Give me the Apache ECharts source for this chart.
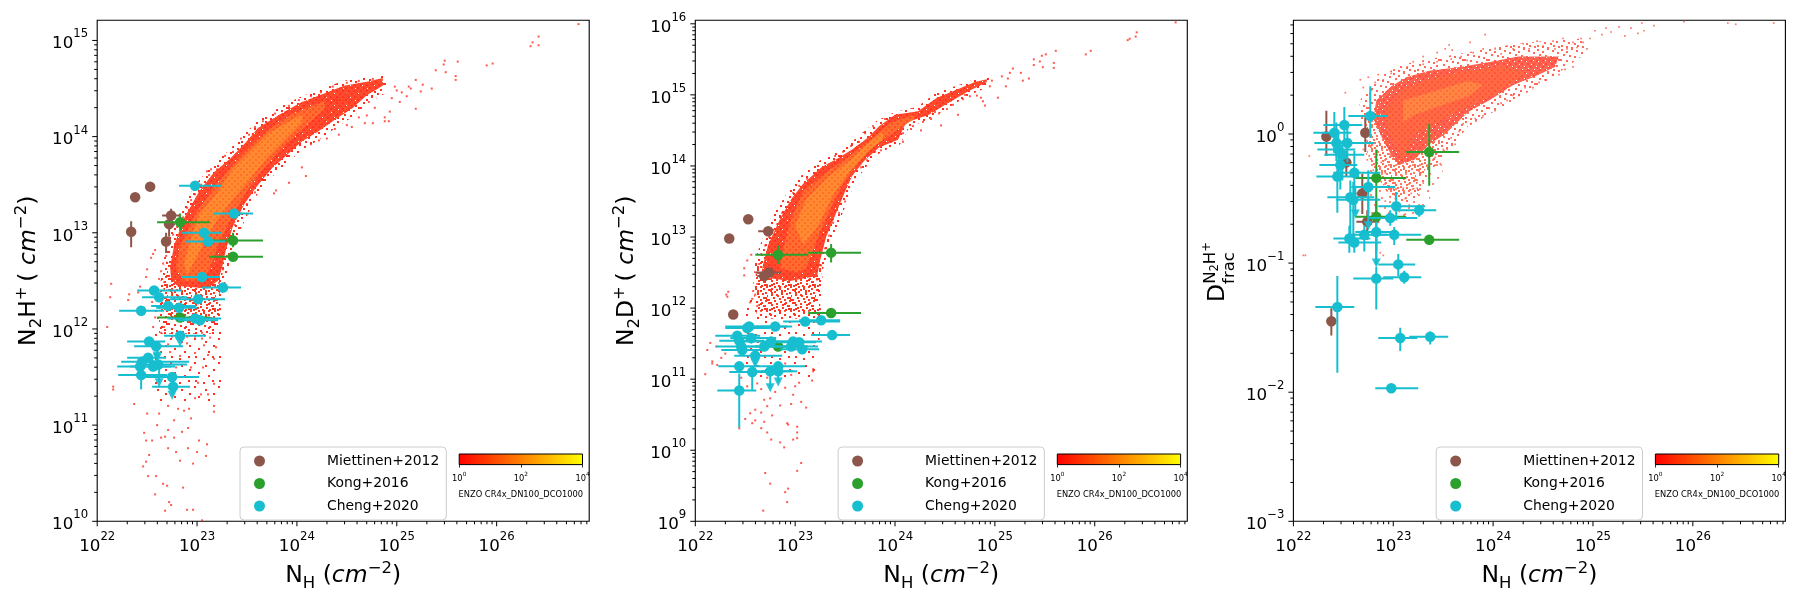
<!DOCTYPE html>
<html>
<head>
<meta charset="utf-8">
<title>Deuteration hexbin panels</title>
<script src="https://cdn.jsdelivr.net/npm/echarts@6/dist/echarts.min.js"></script>
<style>
  html, body { margin: 0; padding: 0; background: #fff; }
  #chart { width: 1800px; height: 600px; }
</style>
</head>
<body>
<div id="chart"></div>
<script>
// all values below are log10 of the plotted quantity
// observations: [x, y, xlow, xhigh, ylow, yhigh]
const miettinenA = [
  [22.34,13.01,22.34,22.34,12.85,13.12],[22.38,13.37,22.38,22.38,13.32,13.41],[22.53,13.48,22.50,22.56,13.45,13.51],
  [22.74,13.18,22.65,22.83,13.11,13.25],[22.72,13.09,22.67,22.78,12.96,13.19],[22.69,12.91,22.66,22.72,12.79,13.00]
];
const kongA = [
  [22.83,13.11,22.60,23.13,13.02,13.20],[23.36,12.92,23.12,23.66,12.85,13.00],
  [23.36,12.75,23.12,23.66,12.72,12.78],[22.83,12.12,22.60,23.13,12.10,12.14]
];
const chengA = [
  [22.98,13.49,22.82,23.25,13.47,13.52],[23.37,13.20,23.17,23.56,13.17,13.22],[23.07,13.00,22.85,23.24,12.97,13.03],
  [23.11,12.91,22.88,23.28,12.88,12.94],[23.05,12.54,22.84,23.23,12.51,12.57],[23.26,12.43,23.05,23.44,12.40,12.45],
  [22.57,12.40,22.40,22.85,12.37,12.43],[22.62,12.33,22.45,22.90,12.30,12.36],[23.01,12.31,22.73,23.28,12.28,12.34],
  [22.71,12.24,22.54,22.99,12.21,12.27],[22.82,12.22,22.59,23.00,12.18,12.26],[22.44,12.19,22.22,22.67,12.16,12.22],
  [22.98,12.11,22.71,23.24,12.08,12.14],[23.03,12.09,22.81,23.21,12.06,12.12],[22.83,11.93,22.67,23.09,11.90,11.96],
  [22.52,11.87,22.30,22.68,11.83,11.90],[22.59,11.82,22.37,22.86,11.78,11.85],[22.51,11.70,22.30,22.69,11.65,11.74],
  [22.45,11.66,22.24,22.92,11.60,11.71],[22.43,11.61,22.20,22.74,11.56,11.66],[22.56,11.61,22.33,22.78,11.56,11.68],
  [22.61,11.63,22.40,22.90,11.58,11.68],[22.44,11.52,22.21,22.70,11.37,11.57],[22.75,11.50,22.48,23.02,11.46,11.55],
  [22.76,11.40,22.55,22.93,11.31,11.45]
];
const chengALimits = [[22.83,11.86,11.93],[22.60,11.70,11.82],[22.60,11.72,11.83],[22.62,11.44,11.60],[22.75,11.31,11.40]];

const miettinenB = [
  [22.34,12.98,22.34,22.34,12.95,13.01],[22.53,13.25,22.51,22.55,13.22,13.28],[22.73,13.08,22.63,22.78,13.05,13.11],
  [22.74,12.50,22.60,22.86,12.47,12.53],[22.69,12.45,22.62,22.76,12.42,12.48],[22.38,11.91,22.38,22.38,11.88,11.94]
];
const kongB = [
  [22.83,12.75,22.60,23.13,12.62,12.88],[23.36,12.78,23.13,23.66,12.64,12.90],
  [23.36,11.93,23.13,23.66,11.90,11.96],[22.83,11.46,22.60,23.13,11.44,11.48]
];
const chengB = [
  [23.10,11.81,22.88,23.45,11.78,11.84],[23.26,11.83,23.04,23.45,11.80,11.86],[23.37,11.62,23.16,23.55,11.59,11.65],
  [22.80,11.74,22.60,22.97,11.70,11.78],[22.54,11.74,22.30,22.92,11.70,11.78],[22.52,11.72,22.30,22.75,11.68,11.76],
  [22.42,11.61,22.20,22.65,11.55,11.67],[22.56,11.58,22.35,22.81,11.50,11.64],[22.76,11.53,22.48,22.95,11.48,11.57],
  [22.98,11.53,22.71,23.27,11.48,11.57],[23.04,11.52,22.81,23.21,11.47,11.56],[22.46,11.46,22.21,22.70,11.40,11.52],
  [22.44,11.54,22.24,22.69,11.49,11.60],[22.69,11.46,22.48,23.02,11.42,11.50],[22.96,11.46,22.69,23.23,11.42,11.50],
  [23.07,11.42,22.85,23.24,11.37,11.47],[22.47,11.41,22.26,22.69,11.35,11.47],[22.60,11.33,22.39,22.87,11.20,11.40],
  [22.44,11.18,22.23,22.66,11.11,11.24],[22.57,11.10,22.34,22.77,10.85,11.17],[22.83,11.18,22.66,23.10,11.13,11.23],
  [22.83,11.11,22.66,23.02,11.05,11.16],[22.75,11.11,22.60,22.98,11.05,11.16],[22.44,10.84,22.22,22.61,10.32,11.08]
];
const chengBLimits = [[22.75,10.88,11.11],[22.83,10.96,11.11],[22.60,11.22,11.33]];

const miettinenC = [
  [22.33,-0.02,22.33,22.33,-0.17,0.18],[22.72,0.01,22.72,22.72,-0.14,0.13],[22.53,-0.22,22.53,22.53,-0.33,-0.13],
  [22.69,-0.46,22.63,22.74,-0.62,-0.31],[22.74,-0.68,22.63,22.86,-0.82,-0.59],[22.38,-1.45,22.38,22.38,-1.56,-1.35]
];
const kongC = [
  [23.36,-0.14,23.13,23.66,-0.40,0.08],[22.83,-0.34,22.62,23.13,-0.63,-0.12],
  [22.83,-0.64,22.62,23.13,-0.90,-0.50],[23.36,-0.82,23.13,23.66,-0.84,-0.79]
];
const chengC = [
  [22.77,0.14,22.55,22.94,-0.03,0.37],[22.51,0.07,22.30,22.69,-0.09,0.21],[22.41,0.01,22.20,22.58,-0.15,0.17],
  [22.43,-0.07,22.21,22.61,-0.21,0.09],[22.54,-0.07,22.33,22.81,-0.22,0.09],[22.45,-0.12,22.24,22.62,-0.30,0.03],
  [22.49,-0.16,22.31,22.71,-0.36,-0.05],[22.47,-0.24,22.26,22.64,-0.43,-0.14],[22.61,-0.30,22.40,22.87,-0.48,-0.13],
  [22.44,-0.33,22.23,22.66,-0.61,-0.20],[22.75,-0.41,22.58,23.02,-0.62,-0.28],[22.57,-0.49,22.34,22.81,-0.80,-0.36],
  [22.60,-0.51,22.43,22.87,-0.86,-0.37],[23.03,-0.56,22.85,23.32,-0.67,-0.45],[23.26,-0.59,23.06,23.43,-0.64,-0.55],
  [22.97,-0.65,22.75,23.24,-0.71,-0.59],[22.83,-0.76,22.62,23.04,-1.01,-0.68],[23.01,-0.78,22.78,23.28,-0.86,-0.72],
  [22.71,-0.78,22.56,22.94,-0.91,-0.71],[22.56,-0.81,22.40,22.77,-0.92,-0.71],[22.61,-0.84,22.45,22.88,-0.92,-0.77],
  [23.05,-1.01,22.85,23.22,-1.10,-0.93],[23.11,-1.11,22.90,23.28,-1.16,-1.06],[22.83,-1.12,22.60,23.00,-1.36,-1.03],
  [22.44,-1.34,22.22,22.61,-1.85,-1.10],[23.07,-1.58,22.85,23.24,-1.68,-1.50],[23.37,-1.57,23.16,23.55,-1.63,-1.53],
  [22.98,-1.97,22.82,23.25,-1.98,-1.95]
];
const chengCLimits = [[22.62,-0.62,-0.40],[22.75,-0.71,-0.50],[22.83,-1.00,-0.76]];

// simulation cloud outlines: [logN_H, logN]
const sparseA = [[22.55,11.25],[22.55,12.15],[22.62,12.50],[23.24,12.60],[23.24,11.25]];
const haloA = [[22.62,11.95],[22.62,12.40],[22.66,12.70],[22.72,12.95],[22.84,13.25],[23.00,13.52],[23.15,13.70],[23.30,13.84],[23.45,14.00],[23.60,14.16],[23.85,14.32],[24.05,14.42],[24.28,14.51],[24.47,14.58],[24.70,14.62],[24.90,14.64],[24.90,14.46],[24.70,14.34],[24.55,14.20],[24.40,14.10],[24.21,13.96],[24.05,13.86],[23.90,13.72],[23.75,13.58],[23.59,13.38],[23.52,13.22],[23.42,13.00],[23.34,12.76],[23.30,12.55],[23.24,12.30],[23.20,11.95]];
const lowA = [[22.70,12.10],[22.66,12.45],[22.68,12.70],[23.27,12.70],[23.24,12.45],[23.18,12.10]];
const outerA = [[22.80,12.45],[22.74,12.52],[22.73,12.64],[22.77,12.87],[22.87,13.15],[23.02,13.43],[23.17,13.63],[23.33,13.77],[23.48,13.93],[23.61,14.09],[23.86,14.25],[24.05,14.36],[24.28,14.45],[24.47,14.53],[24.70,14.57],[24.86,14.61],[24.86,14.53],[24.70,14.43],[24.55,14.29],[24.40,14.19],[24.21,14.05],[24.05,13.95],[23.90,13.81],[23.75,13.67],[23.59,13.47],[23.48,13.31],[23.36,13.07],[23.29,12.83],[23.25,12.64],[23.21,12.50],[23.10,12.42]];
const midA = [[22.86,12.50],[22.79,12.64],[22.83,12.87],[22.98,13.19],[23.17,13.47],[23.36,13.71],[23.52,13.89],[23.71,14.07],[23.94,14.23],[24.13,14.31],[24.28,14.37],[24.28,14.29],[24.13,14.15],[23.98,14.01],[23.82,13.85],[23.67,13.67],[23.52,13.47],[23.36,13.19],[23.21,12.87],[23.13,12.64],[23.06,12.50]];
const coreA = [[23.02,13.19],[23.21,13.43],[23.36,13.67],[23.52,13.83],[23.71,14.03],[23.94,14.17],[24.05,14.23],[24.05,14.15],[23.86,13.95],[23.71,13.79],[23.52,13.55],[23.36,13.35],[23.21,13.15],[23.10,12.95],[22.90,12.56],[22.87,12.68],[22.94,12.95]];
const sparseB = [[22.50,11.00],[22.50,12.00],[22.60,12.60],[23.28,12.40],[23.22,11.00]];
const haloB = [[22.62,11.85],[22.58,12.30],[22.60,12.70],[22.68,13.00],[22.80,13.36],[22.92,13.62],[23.05,13.85],[23.25,14.08],[23.40,14.18],[23.55,14.32],[23.70,14.50],[23.82,14.64],[24.00,14.76],[24.22,14.83],[24.40,15.02],[24.60,15.12],[24.80,15.22],[24.95,15.25],[24.95,15.12],[24.72,14.98],[24.49,14.78],[24.34,14.66],[24.14,14.54],[24.05,14.30],[23.86,14.20],[23.72,14.00],[23.60,13.78],[23.54,13.56],[23.46,13.28],[23.36,12.95],[23.28,12.55],[23.24,11.85]];
const lowB = [[22.64,11.95],[22.60,12.40],[22.62,12.65],[23.28,12.65],[23.24,12.30],[23.18,11.95]];
const outerB = [[22.75,12.42],[22.67,12.56],[22.73,12.89],[22.85,13.26],[22.96,13.53],[23.08,13.75],[23.27,13.99],[23.42,14.10],[23.57,14.23],[23.73,14.40],[23.84,14.56],[24.00,14.72],[24.23,14.77],[24.42,14.96],[24.61,15.07],[24.80,15.18],[24.92,15.22],[24.92,15.18],[24.72,15.04],[24.49,14.85],[24.34,14.72],[24.11,14.61],[24.03,14.37],[23.84,14.26],[23.69,14.07],[23.57,13.86],[23.50,13.64],[23.42,13.37],[23.31,13.00],[23.25,12.67],[23.22,12.45],[22.95,12.38]];
const midB = [[22.85,12.56],[22.89,12.89],[22.96,13.26],[23.08,13.64],[23.31,13.91],[23.54,14.13],[23.73,14.34],[23.96,14.61],[24.19,14.72],[24.19,14.66],[24.00,14.48],[23.80,14.29],[23.65,14.07],[23.50,13.80],[23.38,13.48],[23.23,13.00],[23.11,12.56],[23.02,12.50]];
const coreB = [[23.00,13.16],[23.11,13.53],[23.34,13.86],[23.54,14.07],[23.73,14.32],[23.88,14.48],[23.88,14.37],[23.73,14.21],[23.54,13.91],[23.38,13.59],[23.23,13.16],[23.08,12.89]];
const sparseC = [[22.72,-0.10],[22.78,-0.62],[23.00,-0.72],[23.30,-0.60],[23.50,-0.30],[23.40,-0.05]];
const haloC = [[22.68,0.10],[22.66,0.25],[22.76,0.38],[22.90,0.46],[23.10,0.54],[23.35,0.58],[23.65,0.62],[23.95,0.66],[24.25,0.70],[24.50,0.72],[24.90,0.74],[24.92,0.62],[24.52,0.40],[24.25,0.28],[23.98,0.16],[23.75,0.06],[23.55,-0.14],[23.38,-0.28],[23.22,-0.50],[23.06,-0.58],[22.95,-0.48],[22.85,-0.30],[22.75,-0.10]];
const lowC = [[22.72,0.10],[22.74,-0.15],[22.86,-0.36],[23.02,-0.50],[23.20,-0.44],[23.36,-0.22],[23.52,-0.02],[23.40,0.20],[23.00,0.25]];
const outerC = [[22.80,0.12],[22.83,0.26],[22.98,0.37],[23.13,0.44],[23.36,0.49],[23.67,0.52],[23.98,0.56],[24.25,0.60],[24.45,0.60],[24.66,0.60],[24.62,0.52],[24.40,0.44],[24.20,0.38],[23.98,0.27],[23.75,0.17],[23.52,0.00],[23.36,-0.08],[23.21,-0.20],[23.06,-0.24],[22.98,-0.16],[22.90,-0.05]];
const midC = [[22.90,0.17],[23.10,0.35],[23.36,0.43],[23.75,0.49],[24.13,0.53],[24.32,0.47],[24.05,0.32],[23.71,0.20],[23.44,0.09],[23.21,0.00],[23.10,-0.21],[22.98,-0.03]];
const coreC = [[23.10,0.26],[23.36,0.32],[23.75,0.41],[23.90,0.38],[23.75,0.29],[23.48,0.22],[23.21,0.15],[23.10,0.09]];

// lone hexbin cells outside the outlines
const cellsA = [
  [26.82,15.17],[26.42,15.04],[26.34,14.94],[26.36,14.98],[26.42,14.95],[25.48,14.79],[25.47,14.75],[25.61,14.78],[25.49,14.67],[25.59,14.63],[25.59,14.59],[25.39,14.69],[25.90,14.74],[25.96,14.76],
  [25.35,14.50],[25.26,14.54],[25.24,14.47],[25.19,14.59],[25.19,14.29],[25.12,14.52],[25.10,14.42],[25.05,14.46],[25.03,14.36],[25.00,14.48],[24.98,14.52],[25.14,14.50],[24.95,14.40],[24.93,14.26],[24.88,14.16],[24.92,14.16],[24.88,14.20],[24.76,14.14],[24.70,14.22],[24.78,14.30],[24.72,14.36],[24.68,14.14],[24.62,14.20],[24.55,14.10],[24.50,14.12],[24.42,14.02],[24.38,14.08],[24.30,13.98],[24.22,13.96],[24.14,13.92],[24.09,13.59],[24.05,13.68],[23.92,13.52],[23.79,13.44],[23.77,13.41],
  [23.05,10.01],[22.90,10.12],[22.96,10.12],[22.68,10.11],[22.74,10.17],[22.72,10.20],[22.70,10.37],[22.66,10.39],[22.58,10.28],[22.51,10.47],[22.46,10.57],[22.52,10.69],[22.49,10.62],[22.59,10.47],[22.71,10.76],[22.68,10.88],[22.79,10.72],[22.83,10.63],[22.86,10.35],[22.91,10.76],[22.96,10.60],[23.02,10.84],[23.10,10.80],[23.09,10.68],[23.00,10.72],[22.47,10.92],[22.49,10.84],[22.55,10.84],[22.64,10.87],[22.71,10.95],[22.77,10.87],[22.85,10.93],[22.91,10.97],[22.77,11.05],[22.81,11.17],[22.87,11.15],[22.92,11.17],[22.94,11.07],[22.62,11.12],[22.50,11.12],[22.60,11.00],[22.37,11.22],[22.71,11.20],[22.98,11.28],[23.04,11.32],[23.17,11.20],[23.17,11.14],[23.11,11.32],[23.01,11.44],[22.96,11.50],[22.94,11.60],[23.06,11.60],[23.17,11.43],[23.19,11.81],[23.17,11.69],[23.11,11.73],[23.07,11.83],[23.13,11.91],[22.98,11.75],[22.90,11.85],
  [22.16,11.40],[22.16,11.37],[22.10,12.02],[22.13,12.33],[22.14,12.47],[22.31,12.30],[22.32,12.36],[22.41,12.38],[22.43,12.44],[22.49,12.54],[22.50,12.62],[22.54,12.74],[22.58,12.82],[22.56,12.78],[22.55,12.28],[22.58,12.12],[22.56,12.02],[22.64,11.96],[22.67,12.02],[22.71,11.84],[22.75,11.92],[22.64,11.82],[22.73,11.76],[22.64,11.60],[22.79,11.60],[22.83,11.72],[22.90,11.92],[22.98,11.92],[23.05,11.96],[23.05,11.90],
  [22.62,12.52],[22.64,12.60],[22.66,12.68],[22.69,12.76],[22.72,12.90],[22.76,12.98],[22.80,13.06],[22.86,13.16],[22.90,13.26],[22.94,13.34],[22.98,13.40],[23.04,13.50],[23.12,13.60],[23.20,13.66],[23.10,13.64],[23.14,13.66],[23.22,12.48],[23.26,12.62],[23.30,12.76],[23.34,12.92],[23.38,13.08],[23.44,13.20],[23.50,13.30],[23.58,13.42],[23.65,13.55],[23.72,13.66],[23.80,13.80],[23.90,13.92],[24.00,14.02],[24.10,14.10],[24.20,14.20],[24.30,14.28],[24.40,14.38],[24.50,14.44],[23.28,13.80],[23.36,13.84],[23.44,13.98],[23.52,14.02],[23.58,14.10],[23.66,14.16],[23.78,14.24],[23.92,14.32],[24.02,14.38],[24.14,14.42],[24.24,14.46],[24.36,14.52],[24.50,14.56],[24.62,14.58],[24.76,14.60]
];
const cellsB = [
  [26.81,16.02],[26.42,15.88],[26.41,15.82],[26.35,15.79],[26.33,15.77],[25.96,15.62],[25.91,15.57],[25.61,15.62],[25.51,15.57],[25.47,15.55],[25.45,15.47],[25.39,15.50],[25.48,15.39],[25.59,15.45],[25.59,15.38],[25.39,15.42],[25.34,15.23],[25.26,15.31],[25.28,15.20],[25.18,15.37],[25.15,15.31],[25.13,15.23],[25.11,15.12],[25.07,15.26],[25.03,14.96],[24.90,14.85],[24.86,14.96],[24.88,14.91],[24.82,14.99],[24.97,15.20],[24.95,15.12],[24.63,14.72],[24.46,14.57],[24.26,14.50],[24.75,14.98],[24.68,14.94],[24.58,14.86],[24.52,14.80],[24.44,14.74],[24.36,14.66],[24.16,14.52],[24.08,14.34],
  [22.68,9.15],[22.92,9.27],[22.90,9.41],[22.93,9.46],[22.75,9.53],[22.70,9.68],[23.02,9.71],[23.06,9.82],[22.85,10.11],[22.89,10.04],[22.76,10.15],[22.72,10.25],[22.66,10.31],[22.57,10.38],[22.69,10.40],[22.92,10.38],[22.93,10.36],[23.02,10.33],[23.02,10.25],[23.02,10.17],[22.98,10.15],[22.44,10.31],[22.55,10.52],[22.60,10.57],[22.66,10.53],[22.77,10.49],[22.69,10.71],[22.75,10.73],[22.85,10.63],[22.96,10.65],[23.06,10.68],[23.11,10.60],[23.00,10.90],[23.04,10.95],[23.17,10.98],[23.18,11.11],[23.18,11.14],[22.98,10.78],[22.72,10.62],[22.60,10.42],[22.50,10.44],[22.80,10.82],[22.90,10.88],[22.66,10.86],
  [22.10,11.07],[22.17,11.25],[22.17,11.22],[22.15,11.51],[22.12,11.41],[22.21,11.46],[22.31,12.19],[22.33,12.23],[22.32,12.16],[22.49,12.46],[22.49,12.56],[22.52,12.67],[22.56,12.75],[22.55,12.08],[22.60,12.19],[22.57,12.13],[22.62,12.03],[22.58,12.24],[22.62,12.34],
  [22.62,12.50],[22.64,12.62],[22.66,12.76],[22.70,12.88],[22.74,13.00],[22.78,13.10],[22.82,13.18],[22.87,13.34],[22.92,13.42],[22.98,13.62],[23.04,13.72],[23.12,13.82],[23.20,13.90],[23.30,14.04],[23.40,14.14],[23.48,14.20],[23.56,14.28],[23.64,14.34],[23.70,14.46],[23.78,14.56],[23.90,14.66],
  [23.22,12.40],[23.26,12.60],[23.30,12.84],[23.34,13.02],[23.38,13.20],[23.44,13.34],[23.50,13.50],[23.54,13.70],[23.60,13.84],[23.66,13.98],[23.72,14.08],[23.80,14.20],[23.86,14.22],[23.96,14.34],[24.08,14.46],[24.18,14.56],[24.28,14.62],[24.40,14.76],[24.56,14.92],[24.70,15.00],
  [22.90,11.22],[22.96,11.06],[22.84,10.98],[22.72,11.02],[22.62,10.94],[22.52,10.90],[22.46,11.02],[22.30,11.36],[22.26,11.30],[22.22,11.20]
];
const cellsC = [
  [26.81,0.86],[26.43,0.85],[26.35,0.86],[25.91,0.87],[25.49,0.86],[25.51,0.80],[25.45,0.78],[25.61,0.84],[25.26,0.83],[25.13,0.82],[25.09,0.77],[24.97,0.74],[24.90,0.71],[24.84,0.67],[25.18,0.79],[25.38,0.82],[25.32,0.76],[25.02,0.80],[24.94,0.66],[24.88,0.74],
  [23.92,0.77],[23.77,0.71],[23.56,0.69],[23.52,0.66],[23.59,0.65],[23.44,0.63],[23.30,0.60],[23.20,0.56],[23.14,0.52],[23.06,0.49],[22.98,0.47],[22.85,0.46],[22.75,0.44],[22.67,0.42],[22.52,0.32],[22.70,0.36],[22.78,0.34],[22.82,0.40],[22.90,0.42],[23.68,0.60],[23.80,0.63],[23.90,0.66],[24.02,0.66],[24.14,0.68],[24.30,0.70],[24.44,0.72],[24.60,0.72],[24.70,0.74],[24.80,0.71],
  [22.16,-0.17],[22.12,-0.94],[22.10,-0.94],[23.48,-0.24],[23.47,-0.23],[22.87,-0.92],[22.90,-0.94],[23.02,-0.50],[23.10,-0.42],[23.18,-0.46],[23.24,-0.42],[23.28,-0.30],[23.34,-0.24],[23.42,-0.18],[23.50,-0.12],[23.58,-0.03],[23.66,0.02],[23.78,0.08],[23.90,0.14],[24.02,0.18],[24.14,0.26],[24.26,0.30],[24.40,0.36],[24.52,0.42],[24.66,0.46],[24.80,0.52],
  [22.72,0.10],[22.72,0.02],[22.76,-0.08],[22.84,-0.16],[22.88,-0.22],[22.92,-0.30],[22.96,-0.36],[23.00,-0.42],[23.04,-0.46],[23.12,-0.50],[22.94,-0.44],[22.86,-0.34],[22.80,-0.28],[22.74,-0.20],[22.70,-0.12],[23.16,-0.55],[23.06,-0.60],[23.00,-0.56],[22.92,-0.52],[23.26,-0.55],[23.12,-0.62],
  [23.30,0.54],[23.44,0.56],[23.58,0.58],[23.74,0.57],[23.86,0.60],[24.08,0.62],[24.20,0.66],[24.36,0.66],[24.50,0.68],[24.62,0.66],[24.74,0.66],[23.62,-0.08],[23.70,0.08],[23.82,0.12],[23.94,0.20],[24.08,0.24],[24.20,0.30],[24.32,0.36],[24.46,0.40],[24.60,0.46],[24.72,0.50],[23.54,-0.12],[23.42,-0.24],[23.30,-0.38]
];

const axisLimits = {
  x: [1e22, 8.45e26],
  y: [[1e10, 1.62e15], [1e9, 1.12e16], [1e-3, 7.6]]
};
const panelLeft = [97.2, 695.3, 1293.4];
const colors = { miettinen: "#8c564b", kong: "#2ca02c", cheng: "#17becf" };
const fontName = "DejaVu Sans";

// hand placed speck positions inside one repeating tile
const denseSpecks = [[1,1],[6,3],[11,0],[16,2],[21,4],[3,6],[9,7],[14,8],[19,9],[0,11],[6,12],[12,13],[17,14],[22,11],[3,16],[8,18],[14,19],[20,17],[1,21],[6,22],[11,23],[17,21],[22,22]];
const lightSpecks = [[2,2],[13,5],[21,9],[6,12],[16,15],[3,20],[11,22],[20,20]];
const heavySpecks = denseSpecks.concat(denseSpecks.map((p) => [(p[0] + 2) % 24, (p[1] + 3) % 24]));
const tileHoles = [[2,1],[7,4],[10,9],[4,8],[0,6],[9,0]];

function p10(list) {
  return list.map((row) => row.map((v) => Math.pow(10, v)));
}

// mottled fill so the cloud looks like small hexbin cells and not a flat shape
function cellTexture(base, spot, holeCount) {
  const c = document.createElement("canvas");
  c.width = 12;
  c.height = 12;
  const ctx = c.getContext("2d");
  ctx.fillStyle = base;
  ctx.fillRect(0, 0, 12, 12);
  ctx.fillStyle = spot;
  [[0,0],[6,0],[3,3],[9,3],[0,6],[6,6],[3,9],[9,9]].forEach((p) => ctx.fillRect(p[0], p[1], 2, 2));
  tileHoles.slice(0, holeCount || 0).forEach((p) => ctx.clearRect(p[0], p[1], 1, 1));
  return { image: c, repeat: "repeat" };
}

function speckTexture(color, specks) {
  const c = document.createElement("canvas");
  c.width = 24;
  c.height = 24;
  const ctx = c.getContext("2d");
  ctx.fillStyle = color;
  specks.forEach((p) => ctx.fillRect(p[0], p[1], 2, 2));
  return { image: c, repeat: "repeat" };
}

function polygonSeries(i, outline, fill, z) {
  const points = p10(outline);
  return {
    type: "custom",
    xAxisIndex: i,
    yAxisIndex: i,
    coordinateSystem: "cartesian2d",
    data: points,
    silent: true,
    z: z,
    clip: true,
    renderItem: function (params, api) {
      if (params.dataIndex !== 0) return null;
      return {
        type: "polygon",
        shape: { points: points.map((p) => api.coord(p)) },
        style: { fill: fill }
      };
    }
  };
}

function cellSeries(i, cells, color, size) {
  return {
    type: "scatter",
    xAxisIndex: i,
    yAxisIndex: i,
    data: p10(cells),
    symbol: "rect",
    symbolSize: size,
    itemStyle: { color: color },
    silent: true,
    z: 4
  };
}

function errorSeries(i, rows, color, z) {
  return {
    type: "custom",
    xAxisIndex: i,
    yAxisIndex: i,
    data: p10(rows),
    silent: true,
    z: z,
    clip: true,
    renderItem: function (params, api) {
      const x = api.value(0), y = api.value(1);
      const a = api.coord([api.value(2), y]), b = api.coord([api.value(3), y]);
      const c = api.coord([x, api.value(4)]), d = api.coord([x, api.value(5)]);
      const style = { stroke: color, lineWidth: 2, fill: null };
      return {
        type: "group",
        children: [
          { type: "line", shape: { x1: a[0], y1: a[1], x2: b[0], y2: b[1] }, style: style },
          { type: "line", shape: { x1: c[0], y1: c[1], x2: d[0], y2: d[1] }, style: style }
        ]
      };
    }
  };
}

function markerSeries(i, name, rows, color, z) {
  return {
    type: "scatter",
    name: name,
    xAxisIndex: i,
    yAxisIndex: i,
    data: p10(rows.map((r) => [r[0], r[1]])),
    symbol: "circle",
    symbolSize: 10.5,
    itemStyle: { color: color, opacity: 1 },
    silent: true,
    z: z
  };
}

function limitSeries(i, rows, color, z) {
  return [
    errorSeries(i, rows.map((r) => [r[0], r[1], r[0], r[0], r[1], r[2]]), color, z),
    {
      type: "scatter",
      xAxisIndex: i,
      yAxisIndex: i,
      data: p10(rows.map((r) => [r[0], r[1]])),
      symbol: "triangle",
      symbolRotate: 180,
      symbolSize: 9,
      itemStyle: { color: color, opacity: 0.9 },
      silent: true,
      z: z
    }
  ];
}

// log ticks are drawn by a custom series so the 2..9 minor ones land where they should
function decadeTicks(lo, hi) {
  const major = [], minor = [];
  for (let k = Math.floor(Math.log10(lo) + 1e-9); k <= Math.ceil(Math.log10(hi)); k++) {
    const base = Math.pow(10, k);
    if (base >= lo * 0.999 && base <= hi * 1.001) major.push(base);
    for (let m = 2; m < 10; m++) {
      if (m * base > lo && m * base < hi) minor.push(m * base);
    }
  }
  return { major, minor };
}

function tickSeries(i) {
  const xT = decadeTicks(axisLimits.x[0], axisLimits.x[1]);
  const yLim = axisLimits.y[i];
  const yT = decadeTicks(yLim[0], yLim[1]);
  const xData = xT.major.map((v) => [v, yLim[0], 5]).concat(xT.minor.map((v) => [v, yLim[0], 3]));
  const yData = yT.major.map((v) => [axisLimits.x[0], v, 5]).concat(yT.minor.map((v) => [axisLimits.x[0], v, 3]));
  const common = { type: "custom", xAxisIndex: i, yAxisIndex: i, silent: true, z: 10, clip: false };
  return [
    Object.assign({}, common, {
      data: xData,
      renderItem: function (params, api) {
        const p = api.coord([api.value(0), api.value(1)]);
        return { type: "line", shape: { x1: p[0], y1: p[1], x2: p[0], y2: p[1] + api.value(2) }, style: { stroke: "#000", lineWidth: 1 } };
      }
    }),
    Object.assign({}, common, {
      data: yData,
      renderItem: function (params, api) {
        const p = api.coord([api.value(0), api.value(1)]);
        return { type: "line", shape: { x1: p[0], y1: p[1], x2: p[0] - api.value(2), y2: p[1] }, style: { stroke: "#000", lineWidth: 1 } };
      }
    })
  ];
}

const powerRich = {
  b: { fontFamily: fontName, fontSize: 16.7, color: "#000", lineHeight: 24, verticalAlign: "bottom" },
  s: { fontFamily: fontName, fontSize: 11.7, color: "#000", lineHeight: 24, verticalAlign: "top" }
};
function powerLabel(v) {
  const e = Math.log10(v);
  if (Math.abs(e - Math.round(e)) > 1e-6) return "";
  const n = Math.round(e);
  return "{b|10}{s|" + (n < 0 ? "\u2212" + (-n) : n) + "}";
}

const smallRich = {
  b: { fontFamily: fontName, fontSize: 8.3, color: "#000", lineHeight: 11, verticalAlign: "bottom" },
  s: { fontFamily: fontName, fontSize: 5.8, color: "#000", lineHeight: 11, verticalAlign: "top" }
};

const titleRich = {
  n: { fontFamily: fontName, fontSize: 23.5, color: "#000", lineHeight: 32, verticalAlign: "middle" },
  i: { fontFamily: fontName, fontSize: 23.5, fontStyle: "italic", color: "#000", lineHeight: 32, verticalAlign: "middle" },
  sub: { fontFamily: fontName, fontSize: 16.5, color: "#000", lineHeight: 16, verticalAlign: "bottom" },
  sup: { fontFamily: fontName, fontSize: 16.5, color: "#000", lineHeight: 16, verticalAlign: "top" }
};
const xTitle = "{n|N}{sub|H}{n| (}{i|cm}{sup|\u22122}{n|)}";
const yTitles = [
  "{n|N}{sub|2}{n|H}{sup|+}{n|\u2009( }{i|cm}{sup|\u22122}{n|)}",
  "{n|N}{sub|2}{n|D}{sup|+}{n|\u2009( }{i|cm}{sup|\u22122}{n|)}",
  ""
];

function panelTextures() {
  return {
    sparse: speckTexture("#ff3020", lightSpecks),
    halo: speckTexture("#ff3020", denseSpecks),
    low: speckTexture("#ff3a22", heavySpecks),
    outer: cellTexture("#ff4a2c", "#ff3326", 3),
    mid: cellTexture("#ff6c2e", "#ff4e2a"),
    core: cellTexture("#ff8a30", "#ff7028")
  };
}
const textures = [
  panelTextures(),
  panelTextures(),
  {
    sparse: speckTexture("#ff8a7a", lightSpecks),
    halo: speckTexture("#ff6a5a", denseSpecks),
    low: speckTexture("#ff7458", heavySpecks),
    outer: cellTexture("#ff6450", "#ff4c3e", 6),
    mid: cellTexture("#ff6a42", "#ff5240"),
    core: cellTexture("#ff8642", "#ff6c3e")
  }
];

const outlines = [
  [sparseA, haloA, lowA, outerA, midA, coreA],
  [sparseB, haloB, lowB, outerB, midB, coreB],
  [sparseC, haloC, lowC, outerC, midC, coreC]
];
const cells = [cellsA, cellsB, cellsC];
const observed = [
  [miettinenA, kongA, chengA, chengALimits],
  [miettinenB, kongB, chengB, chengBLimits],
  [miettinenC, kongC, chengC, chengCLimits]
];

const grids = [], xAxes = [], yAxes = [], series = [], legends = [];

panelLeft.forEach(function (left, i) {
  grids.push({ left: left, top: 20.3, width: 492, height: 501, show: true, borderColor: "#000", borderWidth: 1.1, backgroundColor: "#fff", z: 0, outerBoundsMode: "none" });
  xAxes.push({
    type: "log", logBase: 10, gridIndex: i,
    min: axisLimits.x[0], max: axisLimits.x[1],
    interval: 1,
    splitLine: { show: false }, axisTick: { show: false }, minorTick: { show: false },
    axisLine: { show: false },
    axisLabel: { formatter: powerLabel, rich: powerRich, margin: 10, hideOverlap: false, showMinLabel: true, showMaxLabel: false },
    name: xTitle, nameLocation: "middle", nameGap: 33,
    nameTextStyle: { rich: titleRich }
  });
  yAxes.push({
    type: "log", logBase: 10, gridIndex: i,
    min: axisLimits.y[i][0], max: axisLimits.y[i][1],
    interval: 1,
    splitLine: { show: false }, axisTick: { show: false }, minorTick: { show: false },
    axisLine: { show: false },
    axisLabel: { formatter: powerLabel, rich: powerRich, margin: 9, hideOverlap: false, showMinLabel: true, showMaxLabel: false },
    name: yTitles[i], nameLocation: "middle", nameGap: 52,
    nameTextStyle: { rich: titleRich }
  });

  const dotColor = i === 2 ? "#ff5848" : "#ff3020";
  const t = textures[i], o = outlines[i];
  [t.sparse, t.halo, t.low, t.outer, t.mid, t.core].forEach(function (fill, k) {
    series.push(polygonSeries(i, o[k], fill, 1 + k * 0.1));
  });
  series.push(cellSeries(i, cells[i], dotColor, i === 2 ? 1.7 : 2));

  const obs = observed[i];
  series.push(errorSeries(i, obs[0], colors.miettinen, 5));
  series.push(markerSeries(i, "Miettinen+2012", obs[0], colors.miettinen, 5));
  series.push(errorSeries(i, obs[1], colors.kong, 6));
  series.push(markerSeries(i, "Kong+2016", obs[1], colors.kong, 6));
  limitSeries(i, obs[3], colors.cheng, 7).forEach((s) => series.push(s));
  series.push(errorSeries(i, obs[2], colors.cheng, 7));
  series.push(markerSeries(i, "Cheng+2020", obs[2], colors.cheng, 7));
  tickSeries(i).forEach((s) => series.push(s));

  legends.push({
    data: ["Miettinen+2012", "Kong+2016", "Cheng+2020"],
    orient: "vertical",
    left: left + 142.8,
    top: 447,
    padding: [6, 7, 6, 14],
    itemWidth: 11,
    itemHeight: 11,
    itemGap: 6.5,
    icon: "circle",
    selectedMode: false,
    backgroundColor: "rgba(255,255,255,0.8)",
    borderColor: "#ccc",
    borderWidth: 1,
    borderRadius: 4,
    textStyle: { fontFamily: fontName, fontSize: 13.9, color: "#000", padding: [0, 0, 0, 57], lineHeight: 16 },
    z: 20
  });
});

// colour bars sit in their own little grids, grid index 3..5
panelLeft.forEach(function (left, i) {
  const g = 3 + i;
  grids.push({
    left: left + 362, top: 454, width: 123.3, height: 10.6, show: true, outerBoundsMode: "none",
    borderColor: "#000", borderWidth: 1, z: 30,
    backgroundColor: { type: "linear", x: 0, y: 0, x2: 1, y2: 0, colorStops: [{ offset: 0, color: "#ff0000" }, { offset: 1, color: "#ffff00" }] }
  });
  xAxes.push({
    type: "log", logBase: 10, gridIndex: g, min: 1, max: 10000, interval: 2, z: 30,
    splitLine: { show: false }, minorTick: { show: false },
    axisLine: { show: false },
    axisTick: { show: true, length: 3, lineStyle: { color: "#000", width: 0.8 } },
    axisLabel: {
      margin: 7, hideOverlap: false, rich: smallRich,
      formatter: (v) => "{b|10}{s|" + Math.round(Math.log10(v)) + "}"
    },
    name: "ENZO CR4x_DN100_DCO1000", nameLocation: "middle", nameGap: 26,
    nameTextStyle: { fontFamily: fontName, fontSize: 8.3, color: "#000" }
  });
  yAxes.push({ type: "value", gridIndex: g, min: 0, max: 1, show: false });
});

const chart = echarts.init(document.getElementById("chart"), null, { renderer: "canvas" });
chart.setOption({
  animation: false,
  backgroundColor: "#fff",
  textStyle: { fontFamily: fontName },
  grid: grids,
  xAxis: xAxes,
  yAxis: yAxes,
  legend: legends,
  series: series,
  graphic: [
    // stacked super/subscript of the third y label has no rich text form, so three texts
    { type: "text", x: 1218, y: 293, rotation: Math.PI / 2, style: { text: "D", font: "23.5px 'DejaVu Sans'", fill: "#000", align: "center", verticalAlign: "middle" } },
    { type: "text", x: 1230, y: 268, rotation: Math.PI / 2, style: { text: "frac", font: "16.5px 'DejaVu Sans'", fill: "#000", align: "center", verticalAlign: "middle" } },
    {
      type: "text", x: 1211, y: 263, rotation: Math.PI / 2,
      style: {
        text: "{a|N}{b|2}{a|H}{c|+}", align: "center", verticalAlign: "middle",
        rich: {
          a: { fontFamily: fontName, fontSize: 16.5, fill: "#000", lineHeight: 20, verticalAlign: "middle" },
          b: { fontFamily: fontName, fontSize: 11.5, fill: "#000", lineHeight: 10, verticalAlign: "bottom" },
          c: { fontFamily: fontName, fontSize: 11.5, fill: "#000", lineHeight: 10, verticalAlign: "top" }
        }
      }
    }
  ]
});
</script>
</body>
</html>
